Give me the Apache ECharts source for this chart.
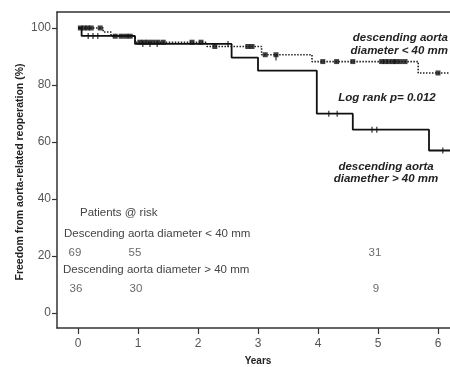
<!DOCTYPE html>
<html>
<head>
<meta charset="utf-8">
<script src="https://cdn.jsdelivr.net/npm/echarts@6/dist/echarts.min.js"></script>
<style>html,body{margin:0;padding:0;background:#fff}#c{width:450px;height:367px}</style>
</head>
<body>
<div id="c"></div>
<script>
// Kaplan-Meier steps: descending aorta diameter > 40 mm (solid)
var gtTimes = [0, 0.06, 0.95, 2.56, 3.0, 3.98, 4.58, 5.85, 6.2];
var gtSurv  = [100, 97.2, 94.4, 89.6, 85.0, 69.9, 64.3, 57.0, 57.0];
// censored (> 40 mm)
var gtCensT = [0.17, 0.25, 0.33, 1.08, 1.2, 1.32, 2.5, 3.3, 4.18, 4.32, 4.9, 4.98, 6.08];
var gtCensS = [97.2, 97.2, 97.2, 94.4, 94.4, 94.4, 94.4, 89.6, 69.9, 69.9, 64.3, 64.3, 57.0];

// Kaplan-Meier steps: descending aorta diameter < 40 mm (dotted)
var ltTimes = [0, 0.42, 0.55, 0.95, 2.15, 3.06, 3.9, 5.67, 6.2];
var ltSurv  = [100, 98.6, 97.1, 95.0, 93.5, 90.6, 88.2, 84.2, 84.2];
// censored (< 40 mm)
var ltCensT = [0.04, 0.1, 0.16, 0.22, 0.37, 0.62, 0.72, 0.8, 0.87, 1.03, 1.1, 1.17, 1.25, 1.33, 1.42, 1.9, 2.05, 2.28, 2.83, 2.9, 3.12, 3.3, 4.08, 4.31, 4.58, 5.06, 5.12, 5.18, 5.25, 5.3, 5.37, 5.45, 6.0];
var ltCensS = [100, 100, 100, 100, 100, 97.1, 97.1, 97.1, 97.1, 95.0, 95.0, 95.0, 95.0, 95.0, 95.0, 95.0, 95.0, 93.5, 93.5, 93.5, 90.6, 90.6, 88.2, 88.2, 88.2, 88.2, 88.2, 88.2, 88.2, 88.2, 88.2, 88.2, 84.2];

// Patients at risk
var riskYears = [0, 1, 5];
var riskLt = [69, 55, 31];
var riskGt = [36, 30, 9];

var xTicks = [0, 1, 2, 3, 4, 5, 6];
var yTicks = [0, 20, 40, 60, 80, 100];

function zip(a, b) { return a.map(function (v, i) { return [v, b[i]]; }); }

var chart = echarts.init(document.getElementById('c'), null, {renderer: 'canvas'});
var FONT = 'Liberation Sans, Arial, sans-serif';
var axisCol = '#333';
chart.setOption({
  animation: false,
  grid: {left: 57, top: 12, right: 0, bottom: 39},
  xAxis: [{
    type: 'value', min: -0.35, max: 6.2,
    axisLine: {show: true, onZero: false, lineStyle: {color: axisCol, width: 1.5}},
    axisTick: {show: true, customValues: xTicks, length: 6, lineStyle: {color: axisCol, width: 1.2}},
    axisLabel: {customValues: xTicks, color: '#555', fontSize: 12, fontFamily: FONT, margin: 10},
    splitLine: {show: false}
  }, {
    type: 'value', position: 'top', min: -0.35, max: 6.2,
    axisLine: {show: true, onZero: false, lineStyle: {color: axisCol, width: 1.5}},
    axisTick: {show: false}, axisLabel: {show: false}, splitLine: {show: false}
  }],
  yAxis: {
    type: 'value', min: -5.3, max: 105.6,
    axisLine: {show: true, onZero: false, lineStyle: {color: axisCol, width: 1.5}},
    axisTick: {show: true, customValues: yTicks, length: 5, lineStyle: {color: axisCol, width: 1.2}},
    axisLabel: {customValues: yTicks, color: '#555', fontSize: 12, fontFamily: FONT, margin: 6},
    splitLine: {show: false}
  },
  series: [{
    type: 'line', step: 'end', data: zip(ltTimes, ltSurv), showSymbol: false,
    lineStyle: {color: '#222', width: 1.6, type: [1.5, 1.5]}, z: 2
  }, {
    type: 'line', step: 'end', data: zip(gtTimes, gtSurv), showSymbol: false,
    lineStyle: {color: '#111', width: 1.8}, z: 3
  }, {
    type: 'scatter', data: zip(ltCensT, ltCensS), symbol: 'rect', symbolSize: [5, 5],
    itemStyle: {color: '#111'}, z: 4
  }, {
    type: 'scatter', data: zip(gtCensT, gtCensS), symbol: 'rect', symbolSize: [1.3, 6],
    itemStyle: {color: '#111'}, z: 4
  }, {
    type: 'scatter', symbolSize: 0,
    data: riskYears.map(function (t, i) { return {value: [t, 21.1], label: {formatter: String(riskLt[i])}}; }),
    label: {show: true, position: 'inside', offset: [-3, 0], color: '#444', fontSize: 11.5, fontFamily: FONT}
  }, {
    type: 'scatter', symbolSize: 0,
    data: riskYears.map(function (t, i) { return {value: [t, 8.6], label: {formatter: String(riskGt[i])}}; }),
    label: {show: true, position: 'inside', offset: [-2, 0], color: '#444', fontSize: 11.5, fontFamily: FONT}
  }],
  graphic: [
    {type: 'text', x: 448, y: 38, style: {text: 'descending aorta', fill: '#222', font: 'italic bold 11.5px ' + FONT, textAlign: 'right', textVerticalAlign: 'middle'}},
    {type: 'text', x: 448, y: 51, style: {text: 'diameter < 40 mm', fill: '#222', font: 'italic bold 11.5px ' + FONT, textAlign: 'right', textVerticalAlign: 'middle'}},
    {type: 'text', x: 387, y: 98, style: {text: 'Log rank p= 0.012', fill: '#222', font: 'italic bold 11.5px ' + FONT, textAlign: 'center', textVerticalAlign: 'middle'}},
    {type: 'text', x: 386, y: 167, style: {text: 'descending aorta', fill: '#222', font: 'italic bold 11.5px ' + FONT, textAlign: 'center', textVerticalAlign: 'middle'}},
    {type: 'text', x: 386, y: 178.5, style: {text: 'diamether > 40 mm', fill: '#222', font: 'italic bold 11.5px ' + FONT, textAlign: 'center', textVerticalAlign: 'middle'}},
    {type: 'text', x: 80, y: 213, style: {text: 'Patients @ risk', fill: '#444', font: '11.5px ' + FONT, textAlign: 'left', textVerticalAlign: 'middle'}},
    {type: 'text', x: 64, y: 234, style: {text: 'Descending aorta diameter < 40 mm', fill: '#444', font: '11.5px ' + FONT, textAlign: 'left', textVerticalAlign: 'middle'}},
    {type: 'text', x: 63, y: 270, style: {text: 'Descending aorta diameter > 40 mm', fill: '#444', font: '11.5px ' + FONT, textAlign: 'left', textVerticalAlign: 'middle'}},
    {type: 'text', x: 258, y: 361, style: {text: 'Years', fill: '#222', font: 'bold 10px ' + FONT, textAlign: 'center', textVerticalAlign: 'middle'}},
    {type: 'text', x: 20, y: 172, rotation: Math.PI / 2, style: {text: 'Freedom from aorta-related reoperation (%)', fill: '#222', font: 'bold 10.5px ' + FONT, textAlign: 'center', textVerticalAlign: 'middle'}}
  ]
});
</script>
</body>
</html>
